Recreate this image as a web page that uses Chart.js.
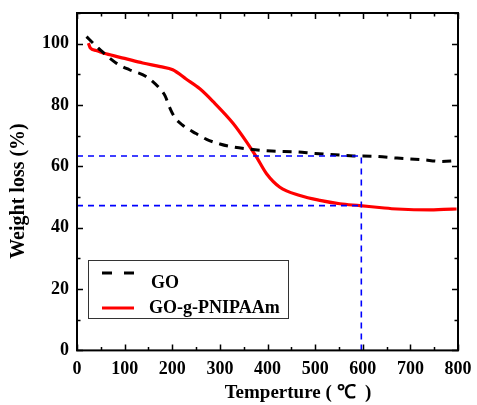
<!DOCTYPE html>
<html><head><meta charset="utf-8">
<script src="https://cdn.jsdelivr.net/npm/chart.js@4/dist/chart.umd.min.js"></script>
<style>html,body{margin:0;padding:0;background:#fff;}#wrap{width:477px;height:405px;}</style>
</head><body><div id="wrap"><canvas id="c" width="477" height="405"></canvas></div>
<script>
// Data
const goTemp = [20,35,50,82,110,145,173,185,194,205,222,250,272,300,321,363,409,461,500,542,580,622,672,724,766,798];
const goWeight = [102.3,100,97.8,93.7,91.5,89.3,85.5,83,79.4,76,73.4,70.7,68.8,67.3,66.5,65.6,65,64.7,64.2,63.8,63.4,63.3,62.7,62.2,61.6,61.9];
const pnTemp = [24,28,40,61,100,138,175,201,229,258,286,328,356,377,398,426,468,510,552,594,640,672,742,770,797];
const pnWeight = [100.2,98.6,97.8,96.7,95.2,93.7,92.5,91.5,88.5,85.3,81.1,74,68,63,57.6,53.2,50.5,48.9,47.8,47.2,46.5,46.1,45.8,46.0,46.1];
const markX = 597;
const markHigh = 63.4;
const markLow = 47.2;
const xTicks = [0,100,200,300,400,500,600,700,800];
const yTicks = [0,20,40,60,80,100];
const seriesNames = ['GO','GO-g-PNIPAAm'];

const FONT = '"Liberation Serif","Times New Roman",serif';
const pts = (xs, ys) => xs.map((x,i)=>({x, y: ys[i]}));

const framePlugin = {
  id: 'frame',
  afterDatasetsDraw(chart) {
    const {ctx, chartArea: a, scales: {x, y}} = chart;
    ctx.save();
    ctx.strokeStyle = '#000';
    ctx.lineWidth = 2;
    ctx.strokeRect(a.left, a.top, a.right - a.left, a.bottom - a.top);
    ctx.lineWidth = 1.5;
    ctx.beginPath();
    for (let v = 0; v <= 800; v += 50) {
      const p = Math.round(x.getPixelForValue(v)) + 0.5;
      const len = v % 100 === 0 ? 6 : 3.5;
      ctx.moveTo(p, a.bottom); ctx.lineTo(p, a.bottom - len);
      ctx.moveTo(p, a.top); ctx.lineTo(p, a.top + len);
    }
    for (let v = 0; v <= 110; v += 10) {
      const p = Math.round(y.getPixelForValue(v)) + 0.5;
      const len = v % 20 === 0 ? 6 : 3.5;
      ctx.moveTo(a.left, p); ctx.lineTo(a.left + len, p);
      ctx.moveTo(a.right, p); ctx.lineTo(a.right - len, p);
    }
    ctx.stroke();

    // legend
    ctx.lineWidth = 1;
    ctx.strokeStyle = '#333';
    ctx.strokeRect(88.5, 260.5, 200, 58);
    ctx.lineWidth = 3;
    ctx.strokeStyle = '#000';
    ctx.setLineDash([10, 12]);
    ctx.beginPath(); ctx.moveTo(102, 273); ctx.lineTo(134, 273); ctx.stroke();
    ctx.setLineDash([]);
    ctx.strokeStyle = '#ff0000';
    ctx.lineWidth = 3;
    ctx.beginPath(); ctx.moveTo(102, 308); ctx.lineTo(134, 308); ctx.stroke();
    ctx.fillStyle = '#000';
    ctx.font = 'bold 18px ' + FONT;
    ctx.textBaseline = 'middle';
    ctx.textAlign = 'left';
    ctx.fillText(seriesNames[0], 151, 283);
    ctx.fillText(seriesNames[1], 149, 308);

    // axis titles
    ctx.font = 'bold 19px ' + FONT;
    ctx.textAlign = 'center';
    ctx.fillText('Temperture ( \u2103  )', 298, 393);
    ctx.save();
    ctx.translate(19, 191);
    ctx.rotate(-Math.PI/2);
    ctx.font = 'bold 20px ' + FONT;
    ctx.fillText('Weight loss (%)', 0, 0);
    ctx.restore();
    ctx.restore();
  }
};

new Chart(document.getElementById('c'), {
  type: 'scatter',
  data: {
    datasets: [
      { label: 'markHigh', data: [{x:0,y:markHigh},{x:markX,y:markHigh},{x:markX,y:0}], showLine: true, borderColor: '#0000ff', borderWidth: 1.6, borderDash: [6,5], pointRadius: 0, fill: false },
      { label: 'markLow', data: [{x:0,y:markLow},{x:markX,y:markLow}], showLine: true, borderColor: '#0000ff', borderWidth: 1.6, borderDash: [6,5], pointRadius: 0, fill: false },
      { label: seriesNames[0], data: pts(goTemp, goWeight), showLine: true, borderColor: '#000', borderWidth: 3, borderDash: [9,7], pointRadius: 0, cubicInterpolationMode: 'monotone', fill: false },
      { label: seriesNames[1], data: pts(pnTemp, pnWeight), showLine: true, borderColor: '#ff0000', borderWidth: 3.2, pointRadius: 0, cubicInterpolationMode: 'monotone', fill: false }
    ]
  },
  options: {
    responsive: false,
    animation: false,
    devicePixelRatio: 1,
    layout: { padding: { left: 34, right: 19, top: 13, bottom: 17 } },
    plugins: { legend: { display: false }, tooltip: { enabled: false } },
    scales: {
      x: {
        type: 'linear', min: 0, max: 800,
        grid: { display: false, drawTicks: false },
        border: { display: false },
        afterBuildTicks: s => { s.ticks = xTicks.map(v => ({value: v})); },
        afterFit: s => { s.paddingLeft = 0; s.paddingRight = 0; },
        ticks: { color: '#000', padding: 8, maxRotation: 0, autoSkip: false, font: { family: FONT, size: 18, weight: 'bold' } }
      },
      y: {
        type: 'linear', min: 0, max: 110,
        grid: { display: false, drawTicks: false },
        border: { display: false },
        afterBuildTicks: s => { s.ticks = yTicks.map(v => ({value: v})); },
        afterFit: s => { s.paddingTop = 0; s.paddingBottom = 0; },
        ticks: { color: '#000', padding: 8, autoSkip: false, font: { family: FONT, size: 18, weight: 'bold' } }
      }
    }
  },
  plugins: [framePlugin]
});
</script>
</body></html>
